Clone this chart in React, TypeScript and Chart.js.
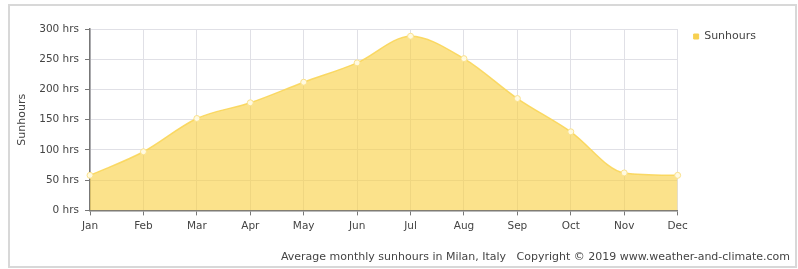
import React, { useEffect, useRef } from "react";
import { Chart, registerables } from "chart.js";

Chart.register(...registerables);

const months = ["Jan", "Feb", "Mar", "Apr", "May", "Jun", "Jul", "Aug", "Sep", "Oct", "Nov", "Dec"];
const sunhours = [58, 97, 152, 178, 212, 244, 288, 251, 185, 130, 62, 58];
const seriesLabel = "Sunhours";
const yTitle = "Sunhours";
const footerText = "Average monthly sunhours in Milan, Italy   Copyright © 2019 www.weather-and-climate.com";

const font = "'DejaVu Sans', Verdana, sans-serif";

export default function App() {
  const ref = useRef<HTMLCanvasElement | null>(null);
  useEffect(() => {
    if (!ref.current) return;
    const chart = new Chart(ref.current, {
      type: "line",
      data: {
        labels: months,
        datasets: [
          {
            label: seriesLabel,
            data: sunhours,
            fill: "origin",
            backgroundColor: "rgba(249, 206, 62, 0.6)",
            borderColor: "rgba(250, 214, 90, 0.9)",
            borderWidth: 1.5,
            cubicInterpolationMode: "monotone",
            pointRadius: 3,
            pointBackgroundColor: "rgba(255, 250, 225, 1)",
            pointBorderColor: "rgba(250, 225, 140, 1)",
            pointBorderWidth: 1,
          },
        ],
      },
      options: {
        animation: false,
        responsive: true,
        maintainAspectRatio: false,
        layout: { padding: { left: 6, right: 29, top: 9, bottom: 28 } },
        plugins: {
          legend: {
            position: "right",
            align: "start",
            labels: {
              usePointStyle: true,
              pointStyle: "rect",
              boxWidth: 5,
              boxHeight: 5,
              color: "#444",
              font: { family: font, size: 11 },
              padding: 16,
              generateLabels: (c: any) =>
                Chart.defaults.plugins.legend.labels.generateLabels(c).map((l: any) => ({
                  ...l,
                  fillStyle: "rgba(247, 208, 80, 1)",
                  strokeStyle: "rgba(247, 208, 80, 1)",
                })),
            },
          },
          title: { display: false },
          tooltip: { enabled: false },
        },
        scales: {
          x: {
            offset: false,
            grid: { color: "#e0e0e6", tickColor: "#777", tickLength: 5 },
            border: { color: "#777", width: 1.5 },
            ticks: { color: "#444", font: { family: font, size: 10.5 }, padding: 5, maxRotation: 0 },
          },
          y: {
            min: 0,
            max: 300,
            afterFit: (s: any) => {
              s.paddingTop = 23;
            },
            grid: { color: "#e0e0e6", tickColor: "#777", tickLength: 5 },
            border: { color: "#777", width: 1.5 },
            ticks: {
              stepSize: 50,
              color: "#444",
              font: { family: font, size: 10.5 },
              padding: 6,
              callback: (v: any) => v + " hrs",
            },
            title: {
              display: true,
              text: yTitle,
              color: "#444",
              font: { family: font, size: 11 },
              padding: { top: 0, bottom: 4 },
            },
          },
        },
      },
    });
    return () => chart.destroy();
  }, []);
  return (
    <div
      style={{
        position: "absolute",
        left: 8,
        top: 4,
        width: 789,
        height: 264,
        border: "2px solid #d8d8d8",
        boxSizing: "border-box",
        background: "#fff",
      }}
    >
      <div style={{ position: "absolute", left: 0, top: 0, right: 0, bottom: 0 }}>
        <canvas ref={ref} />
      </div>
      <div
        style={{
          position: "absolute",
          right: 5,
          top: 243.5,
          fontFamily: font,
          fontSize: 11,
          lineHeight: "13px",
          color: "#444",
          whiteSpace: "pre",
        }}
      >
        {footerText}
      </div>
    </div>
  );
}
